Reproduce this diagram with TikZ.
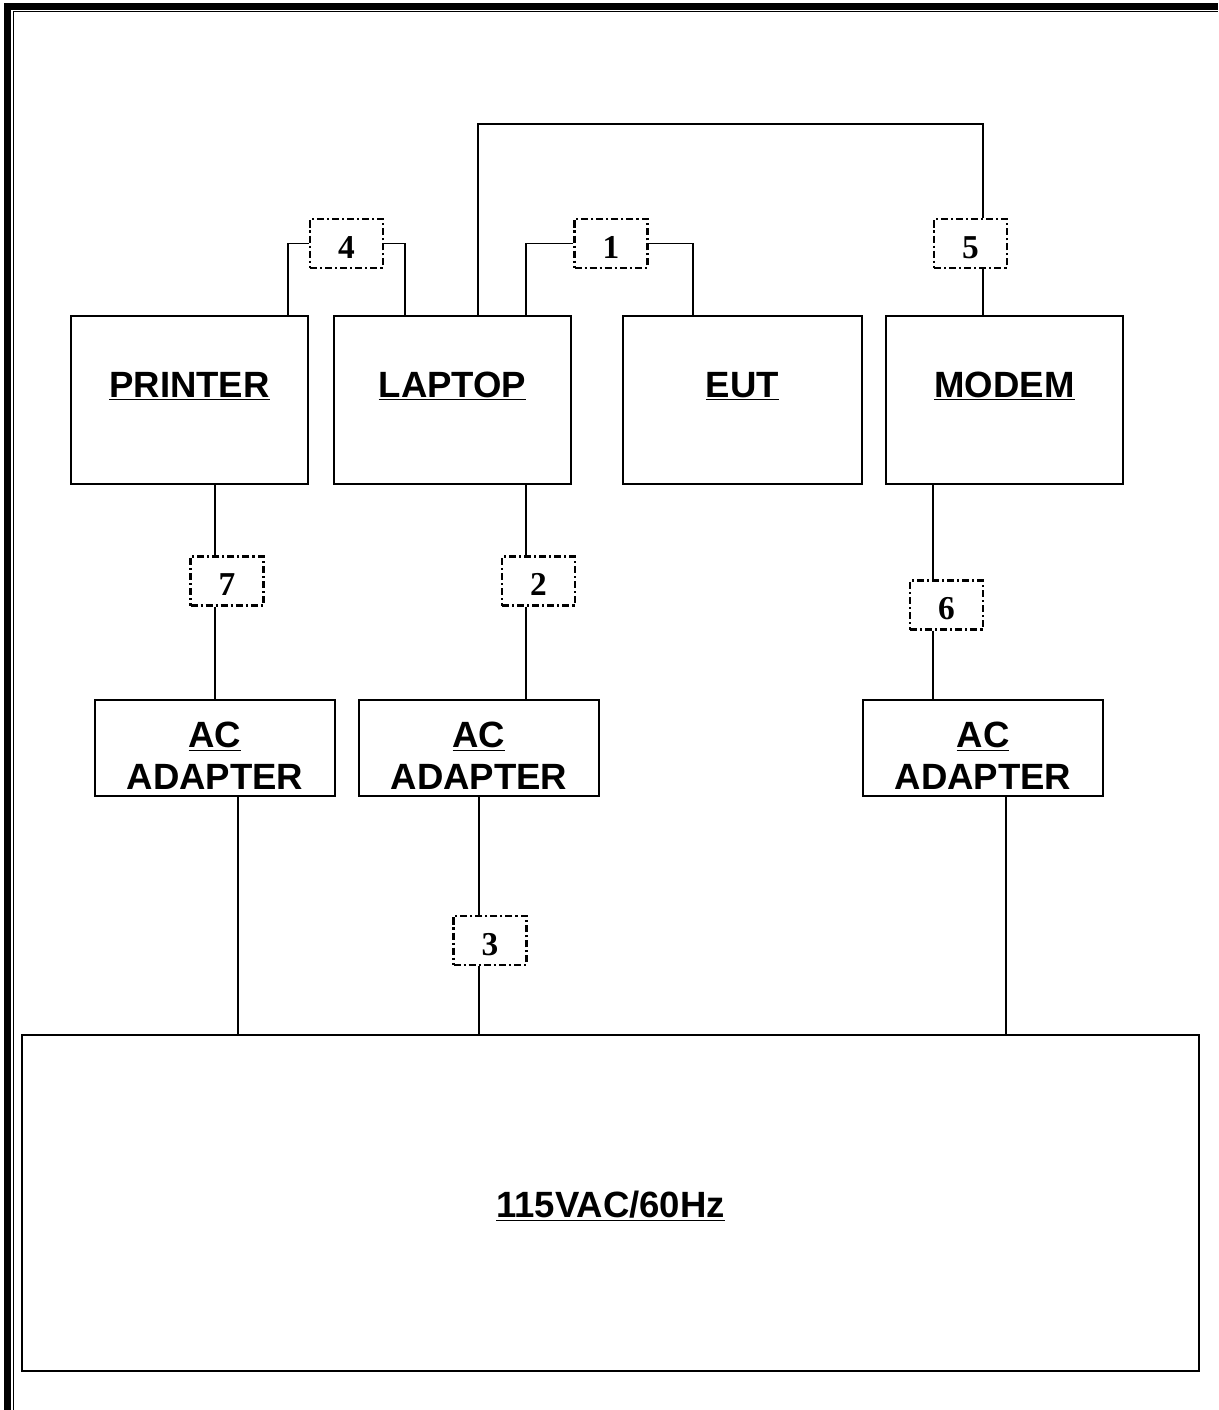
\documentclass[tikz,border=0pt]{standalone}
\usepackage{fontspec}
\setmainfont{Liberation Serif}
\newfontfamily\arialfont{Liberation Sans}
\usetikzlibrary{calc}

\begin{document}
\begin{tikzpicture}[x=0.02cm,y=-0.02cm,
 box/.style={draw,line width=1.1pt,minimum width=4.74cm,minimum height=3.36cm,inner sep=0pt},
 adapter/.style={box,minimum width=4.8cm,minimum height=1.92cm},
 title/.style={anchor=base,align=center,font=\arialfont\bfseries\fontsize{20.8}{23.8}\selectfont},
 tag/.style={draw,line width=1.2pt,dash pattern=on 4pt off 1.7pt on 1.2pt off 1.7pt,%
   minimum width=1.46cm,minimum height=0.98cm,inner sep=0pt,text height=17pt,text depth=0pt,%
   font=\bfseries\fontsize{19}{19}\selectfont},
 wire/.style={line width=1.1pt}]
\useasboundingbox (0,0) rectangle (1218,1410);
% page frame
\draw[line width=3.8pt] (7.5,1410) |- (1218,6.5);
\draw[line width=1.1pt] (13.5,1410) |- (1218,11.5);
% equipment
\node[box] (printer) at (189.5,400) {};
\node[box] (laptop) at (452.5,400) {};
\node[box,minimum width=4.78cm] (eut) at (742.5,400) {};
\node[box] (modem) at (1004.5,400) {};
\node[title] (printer-t) at (189.5,397) {\underline{PRINTER}};
\node[title] (laptop-t) at (452.5,397) {\underline{LAPTOP}};
\node[title] (eut-t) at (742.5,397) {\underline{EUT}};
\node[title] (modem-t) at (1004.5,397) {\underline{MODEM}};
\node[adapter] (ac1) at (215,748) {};
\node[adapter] (ac2) at (479,748) {};
\node[adapter] (ac3) at (983,748) {};
\node[title] (ac1-t) at (215,789) {\underline{AC}\\ADAPTER};
\node[title] (ac2-t) at (479,789) {\underline{AC}\\ADAPTER};
\node[title] (ac3-t) at (983,789) {\underline{AC}\\ADAPTER};
\node[box,minimum width=23.54cm,minimum height=6.72cm] (mains) at (610.5,1203) {};
\node[title] (mains-t) at (610.5,1217) {\underline{115VAC/60Hz}};
% cable tags
\node[tag] (n1) at (611,243.5) {1};
\node[tag] (n2) at (538.5,581) {2};
\node[tag] (n3) at (490,940.5) {3};
\node[tag] (n4) at (346.5,243.5) {4};
\node[tag] (n5) at (970.5,243.5) {5};
\node[tag] (n6) at (946.5,605) {6};
\node[tag] (n7) at (227,581) {7};
\coordinate (ring) at (700,124);
\coordinate (p2) at ([xshift=3.36cm]ac2.north west);
\coordinate (p5) at ([xshift=0.25cm]n5.north);
\coordinate (p6) at ([xshift=1.42cm]ac3.north west);
\coordinate (q1) at ([xshift=2.88cm]ac1.south west);
\coordinate (q3) at ([xshift=2.88cm]ac3.south west);
% cables
\draw[wire] (n4.west) -| ([xshift=-0.42cm]printer.north east);
\draw[wire] (n4.east) -| ([xshift=1.44cm]laptop.north west);
\draw[wire] (n1.west) -| ([xshift=3.86cm]laptop.north west);
\draw[wire] (n1.east) -| ([xshift=1.42cm]eut.north west);
\draw[wire] ([xshift=2.9cm]laptop.north west) |- (ring) -| (p5);
\draw[wire] (p5 |- n5.south) -- (p5 |- modem.north);
\draw[wire] (ac1.north |- printer.south) -- (ac1.north |- n7.north);
\draw[wire] (ac1.north |- n7.south) -- (ac1.north);
\draw[wire] (p2 |- laptop.south) -- (p2 |- n2.north);
\draw[wire] (p2 |- n2.south) -- (p2);
\draw[wire] (p6 |- modem.south) -- (p6 |- n6.north);
\draw[wire] (p6 |- n6.south) -- (p6);
\draw[wire] (q1) -- (q1 |- mains.north);
\draw[wire] (ac2.south) -- (ac2.south |- n3.north);
\draw[wire] (ac2.south |- n3.south) -- (ac2.south |- mains.north);
\draw[wire] (q3) -- (q3 |- mains.north);
\end{tikzpicture}
\end{document}
